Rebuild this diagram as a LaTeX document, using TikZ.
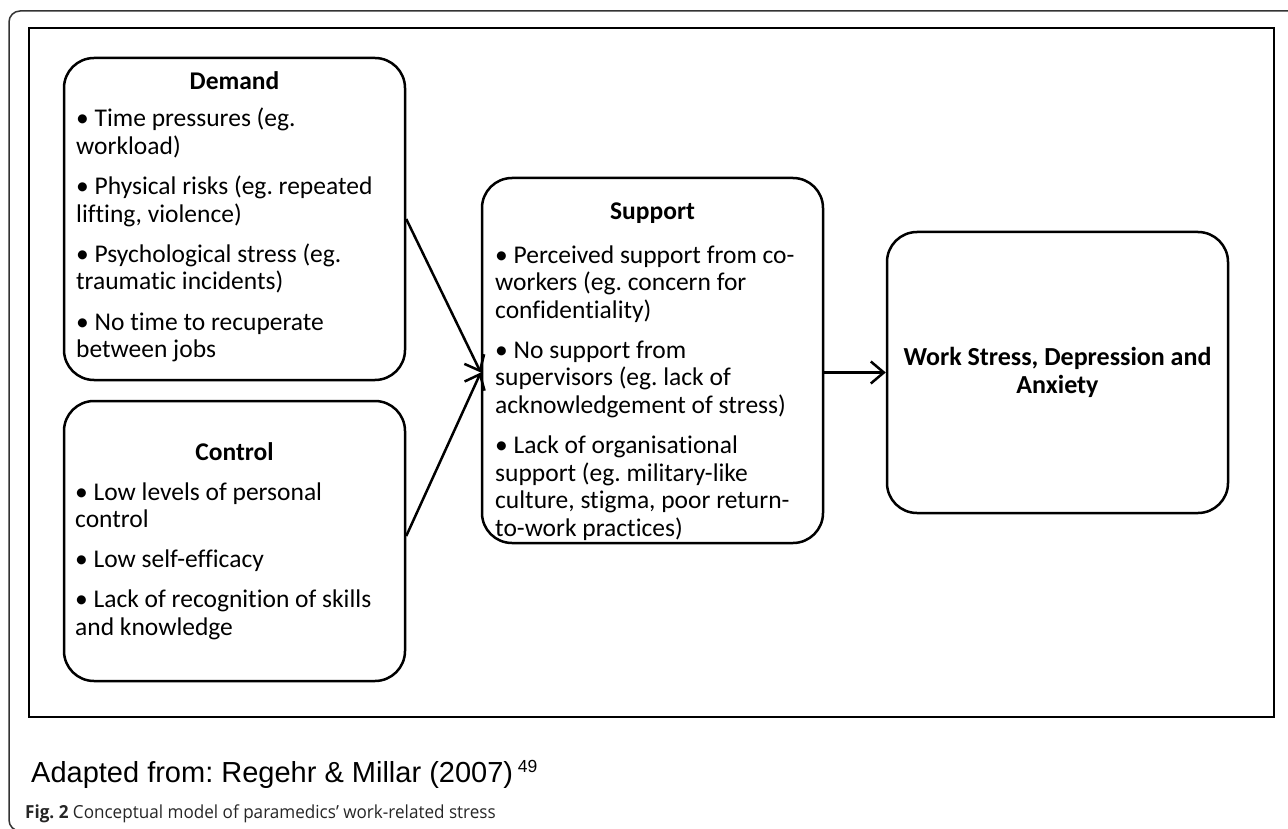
\documentclass[tikz,border=0pt]{standalone}
\usepackage{fontspec}
\setmainfont[Ligatures=NoCommon]{Carlito}
\newfontfamily\capfont{Liberation Sans}
\newfontfamily\figfont[FakeStretch=0.95]{Open Sans}
\usetikzlibrary{arrows.meta,calc}
\newcommand\bodyfont{\fontsize{25.5}{27.6}\selectfont\raggedright}
\newcommand\pgap{\par\vspace{12.5pt}}
\frenchspacing
\begin{document}
\begin{tikzpicture}[x=1pt,y=-1pt,
  box/.style={draw, line width=2.5pt, rounded corners=30pt, inner sep=0pt, minimum width=341pt},
  body/.style={anchor=base west, inner sep=0pt},
  ttl/.style={anchor=base, inner sep=0pt, font=\fontsize{25.5}{27.6}\selectfont\bfseries},
  conn/.style={line width=2.5pt, -{Straight Barb[length=13pt,width=22pt,line width=2.5pt]}}
]
\useasboundingbox (0,0) rectangle (1288,829);
% outer page frame
\draw[line width=1.5pt, black!80, rounded corners=11pt] (1292,11) -- (9,11) -- (9,831) -- (40,831);
% inner frame
\draw[line width=2.2pt] (29,28) rectangle (1274,717);

% boxes
\node[box, minimum height=322pt] (demand) at (234.5,219) {};
\node[box, minimum height=280pt] (control) at (234.5,541) {};
\node[box, minimum height=365pt] (support) at (652.5,360.5) {};
\node[box, minimum height=281pt, align=center, font=\fontsize{26}{28}\selectfont\bfseries] (output) at (1057.5,372.5) {Work Stress, Depression and\\Anxiety};

% titles
\node[ttl] (dtitle) at (234.5,90) {Demand};
\node[ttl] (ctitle) at (234.5,460) {Control};
\node[ttl] (stitle) at (652.5,220) {Support};

% body texts
\node[body] (dtext) at (76,127) {\parbox[t]{325pt}{\bodyfont
• Time pressures (eg.\\ workload)\pgap
• Physical risks (eg. repeated\\ lifting, violence)\pgap
• Psychological stress (eg.\\ traumatic incidents)\pgap
• No time to recuperate\\ between jobs}};
\node[body] (ctext) at (75,500) {\parbox[t]{325pt}{\bodyfont
• Low levels of personal\\ control\pgap
• Low self-efficacy\pgap
• Lack of recognition of skills\\ and knowledge}};
\node[body] (stext) at (495,263) {\parbox[t]{325pt}{\bodyfont
• Perceived support from co-\\ workers (eg. concern for\\ confidentiality)\pgap
• No support from\\ supervisors (eg. lack of\\ acknowledgement of stress)\pgap
• Lack of organisational\\ support (eg. military-like\\ culture, stigma, poor return-\\ to-work practices)}};

% connectors
\draw[conn] (demand.east) -- ([yshift=-12pt]support.west);
\draw[conn] ([yshift=5pt]control.east) -- ([yshift=-12pt]support.west);
\draw[conn] ([yshift=-12pt]support.east) -- (output.west);

% captions
\node[anchor=base west, inner sep=0pt, font=\capfont\fontsize{29}{34}\selectfont] (adapted) at (31,782) {Adapted from: Regehr \& Millar (2007)\,\raisebox{9.5pt}{\fontsize{17.5}{20}\selectfont 49}};
\node[anchor=base west, inner sep=0pt, font=\figfont\fontsize{18}{22}\selectfont, text=black!85] (fig) at (25,818) {\textbf{Fig. 2} Conceptual model of paramedics’ work-related stress};
\end{tikzpicture}
\end{document}
